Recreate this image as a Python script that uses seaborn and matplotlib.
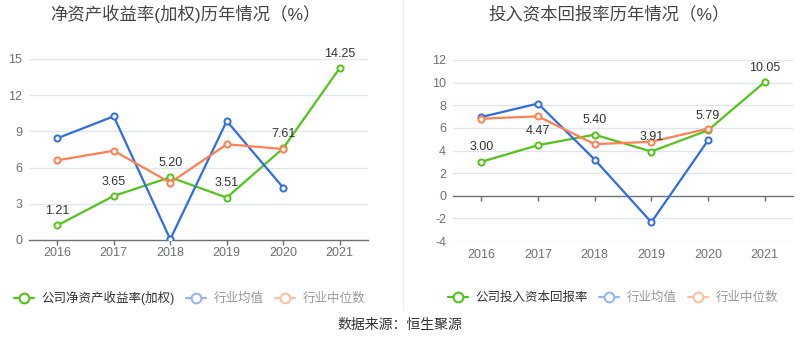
import matplotlib
matplotlib.use("Agg")
import matplotlib.pyplot as plt
from matplotlib.lines import Line2D
import seaborn as sns
import pandas as pd
import numpy as np

years = ["2016", "2017", "2018", "2019", "2020", "2021"]

roe_company = [1.21, 3.65, 5.20, 3.51, 7.61, 14.25]
roe_ind_mean = [8.43, 10.25, 0.06, 9.86, 4.33]
roe_ind_median = [6.60, 7.40, 4.75, 7.93, 7.54]

roic_company = [3.00, 4.47, 5.40, 3.91, 5.79, 10.05]
roic_ind_mean = [6.96, 8.15, 3.20, -2.34, 4.89]
roic_ind_median = [6.81, 7.02, 4.56, 4.77, 5.93]

left_title = "净资产收益率(加权)历年情况（%）"
right_title = "投入资本回报率历年情况（%）"
left_legend = ["公司净资产收益率(加权)", "行业均值", "行业中位数"]
right_legend = ["公司投入资本回报率", "行业均值", "行业中位数"]
source_text = "数据来源：恒生聚源"

GREEN = "#52C41A"
BLUE = "#2F6CE5"
ORANGE = "#FF7F50"
BLUE_F = "#97B5F1"
ORANGE_F = "#FFC0A6"
GRID = "#E0E6F1"
AXIS = "#6E7079"
TXT = "#333333"

sns.set_theme(style="white")
plt.rcParams["font.family"] = ["Liberation Sans", "Noto Sans CJK SC", "DejaVu Sans"]

W, H = 800, 358
fig = plt.figure(figsize=(8, 3.58), dpi=100)


def px_axes(x0, y0, x1, y1):
    return fig.add_axes([x0 / W, 1 - y1 / H, (x1 - x0) / W, (y1 - y0) / H])


def draw(ax, comp, mean, med, ylim, yticks, zero_frac):
    xs = np.arange(len(years))
    df_c = pd.DataFrame({"x": xs[:len(comp)], "y": comp})
    df_m = pd.DataFrame({"x": xs[:len(mean)], "y": mean})
    df_d = pd.DataFrame({"x": xs[:len(med)], "y": med})
    kw = dict(marker="o", markersize=4.4, markerfacecolor="white",
              markeredgewidth=1.4, linewidth=1.6, ax=ax, legend=False)
    sns.lineplot(data=df_c, x="x", y="y", color=GREEN, markeredgecolor=GREEN, zorder=3, **kw)
    sns.lineplot(data=df_m, x="x", y="y", color=BLUE, markeredgecolor=BLUE, zorder=4, **kw)
    sns.lineplot(data=df_d, x="x", y="y", color=ORANGE, markeredgecolor=ORANGE, zorder=5, **kw)
    for x, v in zip(xs, comp):
        ax.annotate(f"{v:.2f}", (x, v), xytext=(0, 6), textcoords="offset points",
                    ha="center", va="bottom", fontsize=9, color=TXT, zorder=6)
    ax.set_xlim(-0.5, len(years) - 0.5)
    ax.set_ylim(*ylim)
    ax.set_yticks(yticks)
    ax.set_yticklabels([str(t) for t in yticks])
    ax.set_xticks(xs)
    ax.set_xticklabels(years)
    ax.set_xlabel("")
    ax.set_ylabel("")
    ax.grid(False)
    for t in yticks:
        if t != 0:
            ax.axhline(t, color=GRID, linewidth=1, zorder=0)
    for s in ["top", "right", "left", "bottom"]:
        ax.spines[s].set_visible(False)
    ax.tick_params(axis="y", length=0, pad=5, labelsize=9, labelcolor=AXIS)
    if zero_frac == 0:
        ax.spines["bottom"].set_visible(True)
        ax.spines["bottom"].set_color(AXIS)
        ax.spines["bottom"].set_linewidth(1)
        ax.tick_params(axis="x", length=3.6, width=1, color=AXIS, pad=1.5,
                       labelsize=9, labelcolor=AXIS, bottom=True)
    else:
        ax.tick_params(axis="x", length=0, pad=6, labelsize=9, labelcolor=AXIS)
        sec = ax.secondary_xaxis(zero_frac)
        sec.set_xticks(xs)
        sec.set_xticklabels([""] * len(xs))
        for s in ["top", "right", "left"]:
            sec.spines[s].set_visible(False)
        sec.spines["bottom"].set_color(AXIS)
        sec.spines["bottom"].set_linewidth(1)
        sec.tick_params(axis="x", length=3.6, width=1, color=AXIS, direction="out")
    ax.set_facecolor("none")


axL = px_axes(29, 59, 368, 240)
draw(axL, roe_company, roe_ind_mean, roe_ind_median, (0, 15), [0, 3, 6, 9, 12, 15], 0)
axR = px_axes(453, 60, 793, 241)
draw(axR, roic_company, roic_ind_mean, roic_ind_median, (-4, 12),
     [-4, -2, 0, 2, 4, 6, 8, 10, 12], 0.25)

fig.text(185 / W, 1 - 14 / H, left_title, ha="center", va="center", fontsize=12.5, color="#444444")
fig.text(609 / W, 1 - 14 / H, right_title, ha="center", va="center", fontsize=12.5, color="#444444")

# divider
fig.add_artist(Line2D([403 / W, 403 / W], [1 - 310 / H, 1.0], transform=fig.transFigure,
                      color="#EEEEEE", linewidth=1))


def make_legend(labels, x_px):
    handles = [
        Line2D([], [], color=GREEN, marker="o", markersize=7, markerfacecolor="white",
               markeredgecolor=GREEN, markeredgewidth=1.5, linewidth=1.6),
        Line2D([], [], color=BLUE_F, marker="o", markersize=7, markerfacecolor="white",
               markeredgecolor=BLUE_F, markeredgewidth=1.5, linewidth=1.6),
        Line2D([], [], color=ORANGE_F, marker="o", markersize=7, markerfacecolor="white",
               markeredgecolor=ORANGE_F, markeredgewidth=1.5, linewidth=1.6),
    ]
    leg = fig.legend(handles, labels, loc="center left", bbox_to_anchor=(x_px / W, 1 - 298 / H),
                     ncol=3, frameon=False, fontsize=9, handlelength=1.6,
                     handletextpad=0.6, columnspacing=0.9, borderpad=0, borderaxespad=0)
    cols = [TXT, "#999999", "#999999"]
    for t, c in zip(leg.get_texts(), cols):
        t.set_color(c)
    return leg


make_legend(left_legend, 14)
make_legend(right_legend, 448)

fig.text(400 / W, 1 - 325 / H, source_text, ha="center", va="center", fontsize=10, color=TXT)

fig.savefig("out.png", dpi=100, facecolor="white")
